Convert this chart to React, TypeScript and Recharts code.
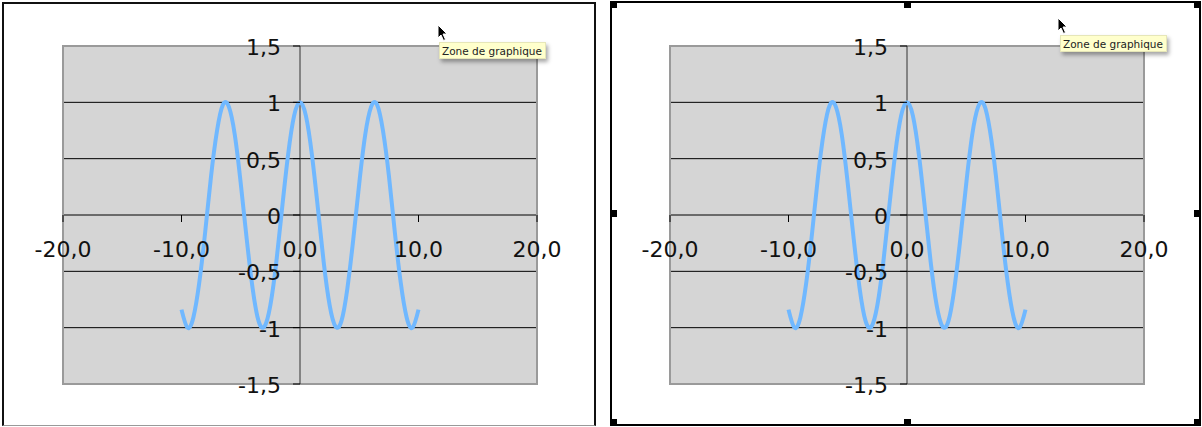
import React from "react";
import { LineChart, Line, XAxis, YAxis, CartesianGrid, ReferenceLine, ReferenceArea } from "recharts";

// x from -10 to 10, step 0.5
const xValues = [
	-10, -9.5, -9, -8.5, -8, -7.5, -7, -6.5, -6, -5.5, -5, -4.5, -4, -3.5, -3, -2.5, -2, -1.5, -1, -0.5, 0, 0.5, 1, 1.5,
	2, 2.5, 3, 3.5, 4, 4.5, 5, 5.5, 6, 6.5, 7, 7.5, 8, 8.5, 9, 9.5, 10,
];
const yValues = [
	-0.84, -1.0, -0.91, -0.6, -0.15, 0.35, 0.75, 0.98, 0.96, 0.71, 0.28, -0.21, -0.65, -0.94, -0.99, -0.8, -0.42, 0.07,
	0.54, 0.88, 1, 0.88, 0.54, 0.07, -0.42, -0.8, -0.99, -0.94, -0.65, -0.21, 0.28, 0.71, 0.96, 0.98, 0.75, 0.35, -0.15,
	-0.6, -0.91, -1.0, -0.84,
];
const xTicks = [-20, -10, 0, 10, 20];
const yTicks = [-1.5, -1, -0.5, 0, 0.5, 1, 1.5];
const tooltipText = "Zone de graphique";

const data = xValues.map((x, i) => ({ x, y: yValues[i] }));

const CHART_W = 600;
const CHART_H = 427;
const X_AXIS_H = 30;
const Y_AXIS_W = 60;
// plot area: 63..537 x 46..384
const MARGIN = { top: 46, right: 63, bottom: 43 - X_AXIS_H, left: 63 - Y_AXIS_W };
const PLOT_LEFT = 63;
const PLOT_W = 474;
const PLOT_H = CHART_H - 46 - 43;
const ZERO_X = PLOT_LEFT + PLOT_W / 2;
const ZERO_Y = 46 + PLOT_H / 2;
const FONT = "'DejaVu Sans', Verdana, sans-serif";

const fmtX = (v: number) => v.toFixed(1).replace(".", ",");
const fmtY = (v: number) => String(v).replace(".", ",");

const XTick = (props: any) => {
	const { x, payload } = props;
	return (
		<g>
			{payload.value !== 0 && <line x1={x} x2={x} y1={ZERO_Y} y2={ZERO_Y + 7} stroke="#000" />}
			<text x={x} y={ZERO_Y + 42} textAnchor="middle" fontSize={22} fontFamily={FONT} fill="#111">
				{fmtX(payload.value)}
			</text>
		</g>
	);
};

const YTick = (props: any) => {
	const { y, payload } = props;
	return (
		<g>
			<line x1={ZERO_X - 7} x2={ZERO_X} y1={y} y2={y} stroke="#000" />
			<text x={ZERO_X - 19} y={y + 9} textAnchor="end" fontSize={22} fontFamily={FONT} fill="#111">
				{fmtY(payload.value)}
			</text>
		</g>
	);
};

function CosChart() {
	return (
		<LineChart width={CHART_W} height={CHART_H} data={data} margin={MARGIN}>
			<CartesianGrid vertical={false} stroke="#000" strokeOpacity={1} fill="#d5d5d5" fillOpacity={1} />
			<ReferenceArea x1={-20} x2={20} y1={-1.5} y2={1.5} fill="none" stroke="#9a9a9a" strokeWidth={2} />
			<ReferenceLine x={0} stroke="#333" />
			<XAxis
				dataKey="x"
				type="number"
				domain={[-20, 20]}
				ticks={xTicks}
				height={X_AXIS_H}
				axisLine={false}
				tickLine={false}
				tick={<XTick />}
				interval={0}
			/>
			<YAxis
				type="number"
				domain={[-1.5, 1.5]}
				ticks={yTicks}
				width={Y_AXIS_W}
				axisLine={false}
				tickLine={false}
				tick={<YTick />}
				interval={0}
			/>
			<Line
				type="natural"
				dataKey="y"
				stroke="#70b8ff"
				strokeWidth={4}
				strokeLinejoin="round"
				dot={false}
				isAnimationActive={false}
			/>
		</LineChart>
	);
}

const Cursor = ({ left, top }: { left: number; top: number }) => (
	<svg width={12} height={18} style={{ position: "absolute", left, top }}>
		<path d="M1 1 L1 14 L4 11 L6.5 16.5 L8.5 15.5 L6 10 L10 10 Z" fill="#000" stroke="#fff" strokeWidth={1} />
	</svg>
);

const Tip = ({ left, top }: { left: number; top: number }) => (
	<div
		style={{
			position: "absolute",
			left,
			top,
			width: 107,
			height: 17,
			background: "#ffffcc",
			border: "1px solid #e6e6b8",
			boxShadow: "2px 3px 4px rgba(0,0,0,0.35)",
			fontFamily: FONT,
			fontSize: 10.5,
			lineHeight: "17px",
			paddingLeft: 2,
			color: "#222",
			whiteSpace: "nowrap",
			boxSizing: "border-box",
		}}
	>
		{tooltipText}
	</div>
);

const handles = [
	[610, 1],
	[904, 1],
	[1194, 1],
	[610, 210],
	[1194, 210],
	[610, 419],
	[904, 419],
	[1194, 419],
];

export default function App() {
	return (
		<div style={{ position: "fixed", left: 0, top: 0, width: 1202, height: 427, background: "#fff", overflow: "hidden" }}>
			<div
				style={{
					position: "absolute",
					left: 2,
					top: 2,
					width: 594,
					height: 424,
					boxSizing: "border-box",
					borderLeft: "2px solid #111",
					borderTop: "2px solid #111",
					borderRight: "2px solid #111",
					borderBottom: "1px solid #999",
				}}
			/>
			<div
				style={{
					position: "absolute",
					left: 610,
					top: 1,
					width: 591,
					height: 425,
					boxSizing: "border-box",
					border: "2px solid #000",
				}}
			/>
			<div style={{ position: "absolute", left: 0, top: 0 }}>
				<CosChart />
			</div>
			<div style={{ position: "absolute", left: 607, top: 0 }}>
				<CosChart />
			</div>
			{handles.map(([l, t], i) => (
				<div key={i} style={{ position: "absolute", left: l, top: t, width: 7, height: 7, background: "#000" }} />
			))}
			<Tip left={439} top={42} />
			<Cursor left={437} top={24} />
			<Tip left={1060} top={35} />
			<Cursor left={1057} top={17} />
		</div>
	);
}
